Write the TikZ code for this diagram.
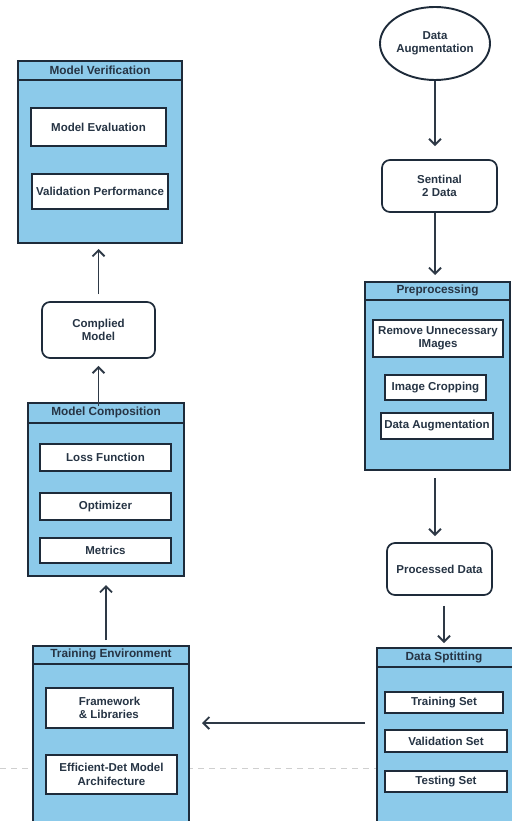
\documentclass[tikz,border=0pt]{standalone}
\usepackage{fontspec}
\setmainfont{Liberation Sans}
\usetikzlibrary{arrows.meta,shapes.geometric}
\definecolor{navy}{HTML}{1E2B3A}
\definecolor{skyb}{HTML}{8CCAEA}
\definecolor{txt}{HTML}{263444}
\definecolor{arrc}{HTML}{2E3946}
\definecolor{dashg}{HTML}{CFCFCF}
\begin{document}
\begin{tikzpicture}[x=1pt,y=-1pt,
  every node/.style={font=\fontsize{11.5}{13.5}\selectfont\bfseries, text=txt},
  hdrtext/.style={font=\fontsize{11.8}{13.5}\selectfont\bfseries},
  cont/.style={draw=navy, line width=2pt, fill=skyb, anchor=north west, inner sep=0pt},
  hline/.style={draw=navy, line width=2pt},
  inbox/.style={draw=navy, line width=1.7pt, fill=white, inner sep=2pt, align=center},
  rbox/.style={draw=navy, line width=1.7pt, fill=white, rounded corners=8pt, inner sep=2pt, align=center},
  arr/.style={draw=arrc, line width=1.9pt, -{Straight Barb[length=6pt,width=12pt,line width=1.9pt]}}]
\useasboundingbox (0,0) rectangle (511,821);
\fill[white] (0,0) rectangle (511,821);
% faint dashed line
\coordinate (dl) at (0,768);
\coordinate (dr) at (511,768);
\draw[dashg, line width=1pt, dash pattern=on 6pt off 5pt] (dl) -- (dr);

% ---------- Model Verification ----------
\node[cont, minimum width=164pt, minimum height=182pt] (mv) at (17,60) {};
\draw[hline] ([yshift=-20pt]mv.north west) -- ([yshift=-20pt]mv.north east);
\node[hdrtext] (mvh) at ([yshift=-10pt]mv.north) {Model Verification};
\node[inbox, minimum width=135pt, minimum height=38pt] (me) at (98.5,127) {Model Evaluation};
\node[inbox, minimum width=136pt, minimum height=35pt] (vp) at (100,191.5) {Validation Performance};

% ---------- Complied Model ----------
\node[rbox, minimum width=113pt, minimum height=56pt] (cm) at (98.5,330) {Complied\\Model};

% ---------- Model Composition ----------
\node[cont, minimum width=156pt, minimum height=173pt] (mc) at (27,402) {};
\draw[hline] ([yshift=-21pt]mc.north west) -- ([yshift=-21pt]mc.north east);
\node[hdrtext] (mch) at ([yshift=-10.5pt]mc.north) {Model Composition};
\node[inbox, minimum width=131pt, minimum height=27pt] (lf) at (105.5,457.5) {Loss Function};
\node[inbox, minimum width=131pt, minimum height=27pt] (op) at (105.5,506.5) {Optimizer};
\node[inbox, minimum width=131pt, minimum height=25pt] (mt) at (105.5,550.5) {Metrics};

% ---------- Training Environment ----------
\node[cont, minimum width=156pt, minimum height=195pt] (te) at (32,645) {};
\draw[hline] ([yshift=-19pt]te.north west) -- ([yshift=-19pt]te.north east);
\node[hdrtext] (teh) at ([yshift=-9.5pt]te.north) {Training Environment};
\node[inbox, minimum width=127pt, minimum height=40pt, align=left] (fw) at (109.5,708) {Framework\\\& Libraries};
\node[inbox, minimum width=131pt, minimum height=39pt] (ed) at (111.5,774.5) {Efficient-Det Model\\Archifecture};

% ---------- Data Augmentation (ellipse) ----------
\node[ellipse, draw=navy, line width=1.9pt, fill=white, minimum width=110pt, minimum height=73pt, inner sep=0pt, align=center] (da) at (435,43.5) {Data\\Augmentation};

% ---------- Sentinal 2 Data ----------
\node[rbox, minimum width=115pt, minimum height=52pt] (s2) at (439.5,186) {Sentinal\\2 Data};

% ---------- Preprocessing ----------
\node[cont, minimum width=145pt, minimum height=188pt] (pp) at (364,281) {};
\draw[hline] ([yshift=-19pt]pp.north west) -- ([yshift=-19pt]pp.north east);
\node[hdrtext] (pph) at ([yshift=-9.5pt]pp.north) {Preprocessing};
\node[inbox, minimum width=130pt, minimum height=37pt] (ru) at (438,338.5) {Remove Unnecessary\\IMages};
\node[inbox, minimum width=101pt, minimum height=25pt] (ic) at (435.5,387.5) {Image Cropping};
\node[inbox, minimum width=112pt, minimum height=26pt] (pa) at (437,426) {Data Augmentation};

% ---------- Processed Data ----------
\node[rbox, minimum width=105pt, minimum height=52pt] (pd) at (439.5,569) {Processed Data};

% ---------- Data Splitting ----------
\node[cont, minimum width=140pt, minimum height=193pt] (ds) at (376,647) {};
\draw[hline] ([yshift=-20pt]ds.north west) -- ([yshift=-20pt]ds.north east);
\node[hdrtext] (dsh) at ([yshift=-10pt,xshift=-3pt]ds.north) {Data Sptitting};
\node[inbox, minimum width=118pt, minimum height=21pt] (ts) at (444,702.5) {Training Set};
\node[inbox, minimum width=122pt, minimum height=22pt] (vs) at (446,741) {Validation Set};
\node[inbox, minimum width=122pt, minimum height=21pt] (tt) at (446,781.5) {Testing Set};

% ---------- Connectors ----------
\draw[arr, shorten >=13pt] (da.south) -- (s2.north -| da.south);
\draw[arr, shorten >=6pt] (s2.south -| da.south) -- (pp.north -| da.south);
\draw[arr, shorten <=7pt, shorten >=6pt] (pp.south -| da.south) -- (pd.north -| da.south);
\draw[arr, shorten <=10pt, shorten >=4pt] (pd.south -| ts.north) -- (ds.north -| ts.north);
\coordinate (hy) at (0,723);
\draw[arr, shorten <=11pt, shorten >=12pt] (ds.west |- hy) -- (te.east |- hy);
\draw[arr, shorten <=5pt, shorten >=8pt] (te.north -| mc.south) -- (mc.south);
\draw[arr, shorten <=-4pt, shorten >=7pt] (mc.north -| cm.south) -- (cm.south);
\draw[arr, shorten <=7pt, shorten >=5pt] (cm.north) -- (mv.south -| cm.north);
\end{tikzpicture}
\end{document}
